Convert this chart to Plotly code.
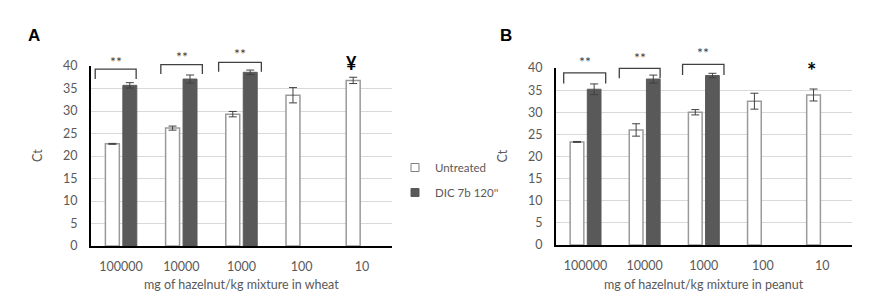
import plotly.graph_objects as go

categories = ["100000", "10000", "1000", "100", "10"]

# Panel A (wheat)
a_untreated = [22.7, 26.2, 29.3, 33.5, 36.8]
a_untreated_err = [0.1, 0.45, 0.6, 1.7, 0.7]
a_dic = [35.7, 37.1, 38.6, None, None]
a_dic_err = [0.6, 0.9, 0.5, None, None]

# Panel B (peanut)
b_untreated = [23.3, 26.0, 30.0, 32.5, 33.9]
b_untreated_err = [0.1, 1.4, 0.6, 1.8, 1.35]
b_dic = [35.2, 37.5, 38.3, None, None]
b_dic_err = [1.2, 0.9, 0.5, None, None]

series_names = ["Untreated", "DIC 7b 120''"]
x_titles = ["mg of hazelnut/kg mixture in wheat", "mg of hazelnut/kg mixture in peanut"]
y_title = "Ct"
panel_labels = ["A", "B"]

# significance brackets: (category index, left offset, right offset, top, bottom, star y)
a_brackets = [(0, -0.43, 0.25, 39.3, 37.1, 41.0), (1, -0.34, 0.35, 40.3, 38.2, 42.0), (2, -0.38, 0.33, 40.8, 38.7, 42.7)]
b_brackets = [(0, -0.37, 0.34, 38.9, 36.5, 41.4), (1, -0.43, 0.26, 39.9, 37.7, 42.4), (2, -0.36, 0.34, 40.8, 38.4, 43.4)]
a_mark = ("¥", 4, 40.7)
b_mark = ("*", 4, 39.5)

FONT = "Lato"
GREY = "#595959"
W, H = 887, 300

xdom = [[91 / W, 392 / W], [556 / W, 851.7 / W]]
ydom = [[1 - 246 / H, 1 - 66 / H], [1 - 245 / H, 1 - 68 / H]]

fig = go.Figure()

panels = [
    (a_untreated, a_untreated_err, a_dic, a_dic_err, a_brackets, a_mark),
    (b_untreated, b_untreated_err, b_dic, b_dic_err, b_brackets, b_mark),
]

UNT_MARKER = dict(color="white", line=dict(color="#9a9a9a", width=1.5))
DIC_MARKER = dict(color=GREY, line=dict(color=GREY, width=1))

shapes = []
annotations = []
for i, (u, ue, d, de, brackets, mark) in enumerate(panels):
    xa = "x" if i == 0 else "x2"
    ya = "y" if i == 0 else "y2"
    fig.add_trace(go.Bar(
        x=categories, y=u, name=series_names[0], xaxis=xa, yaxis=ya,
        marker=UNT_MARKER,
        error_y=dict(type="data", array=ue, color="#404040", thickness=1, width=4),
        showlegend=False,
    ))
    fig.add_trace(go.Bar(
        x=categories, y=d, name=series_names[1], xaxis=xa, yaxis=ya,
        marker=DIC_MARKER,
        error_y=dict(type="data", array=de, color="#404040", thickness=1, width=4),
        showlegend=False,
    ))
    d0, d1 = ydom[i]

    def py(v, d0=d0, d1=d1):
        return d0 + v / 40.0 * (d1 - d0)

    for (ci, lo, hi, top, bot, sy) in brackets:
        shapes.append(dict(
            type="path", xref=xa, yref="paper",
            path=f"M {ci+lo},{py(bot)} L {ci+lo},{py(top)} L {ci+hi},{py(top)} L {ci+hi},{py(bot)}",
            line=dict(color="#404040", width=1.3),
        ))
        annotations.append(dict(
            x=ci + (lo + hi) / 2, y=py(sy), xref=xa, yref="paper", text="**",
            showarrow=False, font=dict(family=FONT, size=14, color="#404040"),
            xanchor="center", yanchor="middle",
        ))
    txt, ci, sy = mark
    annotations.append(dict(
        x=ci - 0.18, y=py(sy), xref=xa, yref="paper", text=f"<b>{txt}</b>",
        showarrow=False, font=dict(family=FONT, size=18 if i == 0 else 22, color="black"),
        xanchor="center", yanchor="middle",
    ))
    annotations.append(dict(
        x=(26 if i == 0 else 498) / W, y=1 - 35 / H, xref="paper", yref="paper",
        text=f"<b>{panel_labels[i]}</b>", showarrow=False,
        font=dict(family="Liberation Sans", size=17, color="black"), xanchor="left", yanchor="middle",
    ))
    # axis titles
    xd = xdom[i]
    annotations.append(dict(
        x=(xd[0] + xd[1]) / 2, y=1 - 284 / H, xref="paper", yref="paper",
        text=x_titles[i], showarrow=False, font=dict(family=FONT, size=12.5, color=GREY),
        xanchor="center", yanchor="middle",
    ))
    annotations.append(dict(
        x=(37 if i == 0 else 502) / W, y=(ydom[i][0] + ydom[i][1]) / 2, xref="paper", yref="paper",
        text=y_title, textangle=-90, showarrow=False, font=dict(family=FONT, size=12.5, color=GREY),
        xanchor="center", yanchor="middle",
    ))

# legend entries (small square symbols)
fig.add_trace(go.Scatter(x=[None], y=[None], mode="markers", name=series_names[0], legendgroup="u",
                         marker=dict(symbol="square", size=8, color="white", line=dict(color="#7f7f7f", width=1))))
fig.add_trace(go.Scatter(x=[None], y=[None], mode="markers", name=series_names[1], legendgroup="d",
                         marker=dict(symbol="square", size=8, color=GREY, line=dict(color=GREY, width=1))))

axis_common = dict(showline=True, linecolor="black", linewidth=2, automargin=False)
xcommon = dict(axis_common, type="category", showgrid=False, ticks="",
               tickfont=dict(family=FONT, size=12.5, color=GREY), ticklabelstandoff=8)
ycommon = dict(axis_common, range=[0, 40], tickvals=[0, 5, 10, 15, 20, 25, 30, 35, 40],
               showgrid=True, gridcolor="#d9d9d9", gridwidth=1, ticks="", zeroline=False,
               tickfont=dict(family=FONT, size=12.5, color=GREY), ticklabelstandoff=9)

fig.update_layout(
    width=W, height=H, margin=dict(l=0, r=0, t=0, b=0),
    paper_bgcolor="white", plot_bgcolor="white",
    barmode="group", bargap=0.42, bargroupgap=0.2,
    font=dict(family=FONT, color=GREY),
    xaxis=dict(xcommon, domain=xdom[0], anchor="y"),
    yaxis=dict(ycommon, domain=ydom[0], anchor="x"),
    xaxis2=dict(xcommon, domain=xdom[1], anchor="y2"),
    yaxis2=dict(ycommon, domain=ydom[1], anchor="x2"),
    legend=dict(x=395 / W, y=1 - 153 / H, xanchor="left", yanchor="top",
                font=dict(family=FONT, size=11.5, color=GREY), bgcolor="rgba(0,0,0,0)",
                tracegroupgap=6),
    shapes=shapes, annotations=annotations,
)

fig.write_html("out.html")
